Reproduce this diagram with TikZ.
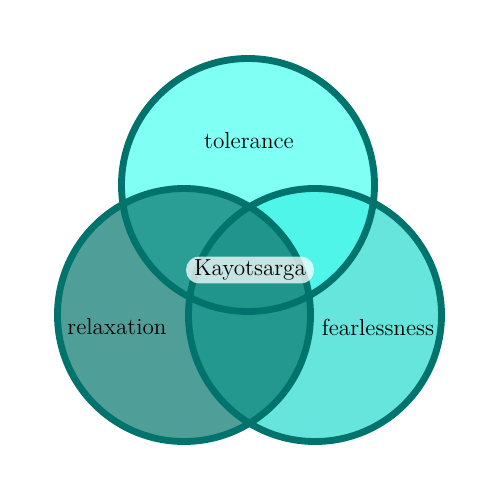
\documentclass[tikz,border=0pt]{standalone}
\usepackage{tikz}
\definecolor{venndark}{HTML}{00736D}
\definecolor{toponly}{HTML}{80FFF4}
\definecolor{leftonly}{HTML}{4F9F98}
\definecolor{rightonly}{HTML}{66E5DC}
\definecolor{topleft}{HTML}{2A9D94}
\definecolor{topright}{HTML}{4FF5E8}
\definecolor{leftright}{HTML}{22988F}
\definecolor{allthree}{HTML}{1F958C}
\tikzset{
  venn edge/.style={
    draw=venndark,           % outline colour
    line width=3.9pt,        % outline thickness
  },
  venn label/.style={font=\fontsize{13.2}{15}\selectfont, inner sep=0pt}
}

\begin{document}
\begin{tikzpicture}[x=0.02cm, y=-0.02cm]
    \useasboundingbox (0,0) rectangle (500,500);
    % Centres
    \def\rr{126.5}
    \coordinate (top) at (248,185);
    \coordinate (left) at (184,315);
    \coordinate (right) at (315,315);

    % Single regions
    \fill[toponly] (top) circle[radius=\rr];
    \fill[leftonly] (left) circle[radius=\rr];
    \fill[rightonly] (right) circle[radius=\rr];
    %
    \begin{scope}
      \clip (top) circle[radius=\rr];
      \fill[topleft] (left) circle[radius=\rr];
      \fill[topright] (right) circle[radius=\rr];
    \end{scope}
    \begin{scope}
      \clip (left) circle[radius=\rr];
      \fill[leftright] (right) circle[radius=\rr];
      \clip (right) circle[radius=\rr];
      \fill[allthree] (top) circle[radius=\rr];
    \end{scope}

    % Outlines
    \draw[venn edge] (top) circle[radius=\rr];
    \draw[venn edge] (left) circle[radius=\rr];
    \draw[venn edge] (right) circle[radius=\rr];

    % Labels
    \node[venn label] (tolerance) at (249,141) {tolerance};
    \node[venn label] (relaxation) at (117,327) {relaxation};
    \node[venn label] (fearlessness) at (378,327) {fearlessness};
    \node[venn label, fill=white, fill opacity=0.75, text opacity=1,
          rounded corners=0.26cm, inner xsep=0.16cm, minimum height=0.54cm]
          (kayotsarga) at (250,270) {Kayotsarga};
\end{tikzpicture}
\end{document}
